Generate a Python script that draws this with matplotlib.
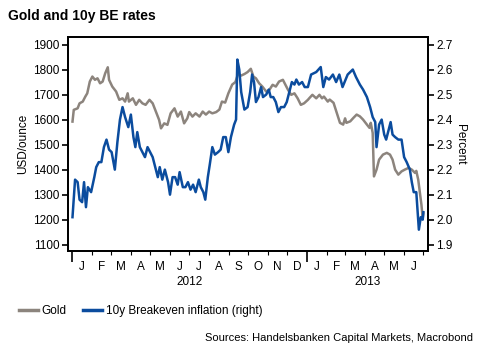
import matplotlib
matplotlib.use("Agg")
import matplotlib.pyplot as plt
import matplotlib.dates as mdates
from matplotlib.ticker import FuncFormatter
import pandas as pd

plt.rcParams["font.family"] = ["Liberation Sans", "DejaVu Sans"]

# data; x = days since 2012-01-01
gold_days = [0, 2, 8, 11, 16, 20, 23, 27, 31, 35, 39, 43, 47, 51, 55, 57, 62,
             68, 73, 78, 82, 86, 88, 94, 99, 104, 109, 114, 120, 125, 130, 135,
             138, 143, 148, 153, 159, 164, 169, 174, 179, 182, 187, 192, 198,
             203, 208, 213, 218, 224, 229, 233, 238, 243, 249, 254, 258, 263,
             268, 273, 278, 282, 286, 291, 296, 302, 307, 312, 317, 322, 328,
             332, 336, 341, 346, 351, 356, 361, 367, 369, 374, 380, 385, 389,
             392, 398, 401, 407, 412, 417, 422, 425, 427, 433, 438, 443, 448,
             453, 459, 463, 465, 468, 470, 474, 478, 484, 490, 495, 499, 503,
             508, 513, 518, 524, 529, 534, 536, 539, 542, 544, 546, 547]
gold_usd = [1592, 1639, 1645, 1665, 1672, 1692, 1705, 1752, 1772, 1759, 1765,
            1745, 1752, 1785, 1809, 1759, 1732, 1712, 1679, 1685, 1672, 1705,
            1672, 1685, 1659, 1679, 1665, 1659, 1679, 1665, 1632, 1599, 1565,
            1585, 1579, 1625, 1645, 1612, 1632, 1585, 1605, 1630, 1612, 1625,
            1612, 1632, 1620, 1632, 1625, 1630, 1640, 1672, 1668, 1705, 1740,
            1750, 1782, 1776, 1782, 1790, 1803, 1772, 1765, 1745, 1732, 1712,
            1719, 1739, 1732, 1752, 1759, 1739, 1719, 1699, 1705, 1685, 1659,
            1665, 1679, 1685, 1699, 1685, 1699, 1685, 1692, 1672, 1680, 1667,
            1627, 1587, 1580, 1605, 1587, 1593, 1607, 1620, 1613, 1600, 1580,
            1567, 1587, 1547, 1373, 1400, 1440, 1460, 1467, 1460, 1440, 1400,
            1380, 1393, 1400, 1407, 1400, 1387, 1395, 1360, 1300, 1260, 1205,
            1225]

be_days = [0, 4, 8, 11, 15, 18, 21, 24, 29, 34, 37, 41, 45, 49, 53, 57, 61, 66,
           70, 74, 78, 82, 87, 91, 95, 98, 101, 105, 109, 113, 117, 121, 125,
           129, 133, 136, 140, 144, 149, 152, 156, 160, 164, 167, 172, 176, 180,
           184, 188, 192, 197, 200, 204, 207, 211, 214, 218, 222, 227, 231, 235,
           239, 243, 247, 252, 255, 257, 260, 263, 268, 273, 277, 280, 283, 286,
           290, 294, 297, 302, 306, 309, 313, 317, 321, 325, 330, 334, 338, 342,
           346, 349, 353, 358, 362, 367, 372, 380, 387, 391, 395, 400, 406, 411,
           416, 421, 429, 437, 442, 448, 453, 459, 464, 468, 472, 474, 478, 482,
           486, 489, 492, 496, 499, 503, 508, 513, 517, 521, 526, 529, 532, 536,
           540, 543, 546, 547]
be_pct = [2.01, 2.16, 2.15, 2.08, 2.07, 2.15, 2.05, 2.13, 2.11, 2.17, 2.21,
          2.23, 2.23, 2.29, 2.32, 2.28, 2.27, 2.20, 2.31, 2.40, 2.45, 2.41,
          2.37, 2.42, 2.33, 2.29, 2.35, 2.29, 2.27, 2.25, 2.29, 2.27, 2.25,
          2.21, 2.17, 2.21, 2.16, 2.20, 2.15, 2.10, 2.17, 2.17, 2.14, 2.19,
          2.13, 2.13, 2.15, 2.12, 2.14, 2.11, 2.16, 2.13, 2.11, 2.08, 2.17,
          2.22, 2.29, 2.26, 2.27, 2.28, 2.33, 2.33, 2.27, 2.33, 2.38, 2.40,
          2.64, 2.60, 2.51, 2.44, 2.45, 2.51, 2.58, 2.55, 2.47, 2.49, 2.53,
          2.49, 2.50, 2.52, 2.49, 2.49, 2.47, 2.43, 2.45, 2.45, 2.47, 2.51,
          2.55, 2.54, 2.56, 2.54, 2.55, 2.53, 2.53, 2.58, 2.59, 2.61, 2.53,
          2.57, 2.56, 2.58, 2.55, 2.58, 2.53, 2.58, 2.60, 2.57, 2.54, 2.52,
          2.49, 2.45, 2.41, 2.39, 2.29, 2.38, 2.40, 2.34, 2.32, 2.35, 2.39,
          2.34, 2.33, 2.32, 2.32, 2.25, 2.23, 2.20, 2.15, 2.11, 2.11, 1.96,
          2.01, 2.00, 2.03]

left_ticks = [1100, 1200, 1300, 1400, 1500, 1600, 1700, 1800, 1900]
right_ticks = [1.9, 2.0, 2.1, 2.2, 2.3, 2.4, 2.5, 2.6, 2.7]
year_labels = ["2012", "2013"]

GOLD = "#8c847d"
BLUE = "#0b4c9e"

base = pd.Timestamp("2012-01-01")
gold_dates = base + pd.to_timedelta(gold_days, unit="D")
be_dates = base + pd.to_timedelta(be_days, unit="D")

fig = plt.figure(figsize=(4.83, 3.58), dpi=100)
ax = fig.add_axes([0.1408, 0.299, 0.745, 0.5976])
ax2 = ax.twinx()

ax.plot(gold_dates, gold_usd, color=GOLD, lw=1.8, solid_joinstyle="round")
ax2.plot(be_dates, be_pct, color=BLUE, lw=1.8, solid_joinstyle="round")

ax.set_ylim(1075, 1930)
ax2.set_ylim(1.875, 2.730)
ax.set_yticks(left_ticks)
ax2.set_yticks(right_ticks)
ax2.yaxis.set_major_formatter(FuncFormatter(lambda v, p: f"{v:.1f}"))

x0, x1 = pd.Timestamp("2011-12-25"), pd.Timestamp("2013-07-08")
ax.set_xlim(x0, x1)

# month boundaries (short) and year boundaries (long)
ax.xaxis.set_major_locator(mdates.YearLocator())
ax.xaxis.set_minor_locator(mdates.MonthLocator())
ax.xaxis.set_major_formatter(FuncFormatter(lambda v, p: ""))
ax.tick_params(axis="x", which="major", length=8, width=1.2, color="black")
ax.tick_params(axis="x", which="minor", length=3, width=0.8, color="black")

# month letters centred in each month
sec = ax.secondary_xaxis("bottom")
sec.xaxis.set_major_locator(mdates.MonthLocator(bymonthday=16))
sec.xaxis.set_major_formatter(
    FuncFormatter(lambda v, p: mdates.num2date(v).strftime("%b")[0]))
sec.tick_params(length=0, pad=7, labelsize=8.5)
sec.spines["bottom"].set_visible(False)

# year labels centred on the visible part of each year
trans = ax.get_xaxis_transform()
for lab in year_labels:
    ys = max(pd.Timestamp(f"{lab}-01-01"), x0)
    ye = min(pd.Timestamp(f"{int(lab) + 1}-01-01"), x1)
    mid = ys + (ye - ys) / 2
    ax.text(mdates.date2num(mid), -0.115, lab, transform=trans,
            ha="center", va="top", fontsize=8.5)

for a in (ax, ax2):
    for s in a.spines.values():
        s.set_linewidth(1.3)
ax.tick_params(axis="y", length=4, width=1.2, labelsize=8.5, pad=2)
ax2.tick_params(axis="y", length=4, width=1.2, labelsize=8.5, pad=2)

ax.set_ylabel("USD/ounce", fontsize=8.5, labelpad=3)
ax2.set_ylabel("Percent", fontsize=8.5, rotation=270, labelpad=10)

fig.text(0.017, 0.955, "Gold and 10y BE rates", fontsize=10,
         fontweight="bold", ha="left", va="center")

h1 = plt.Line2D([], [], color=GOLD, lw=2.5)
h2 = plt.Line2D([], [], color=BLUE, lw=2.5)
fig.legend([h1, h2], ["Gold", "10y Breakeven inflation (right)"],
           loc="center left", bbox_to_anchor=(0.03, 0.132), ncol=2,
           frameon=False, fontsize=8.5, handlelength=1.6, handletextpad=0.3,
           columnspacing=1.4, borderaxespad=0)

fig.text(0.98, 0.055, "Sources: Handelsbanken Capital Markets, Macrobond",
         fontsize=8, ha="right", va="center")

fig.savefig("out.png", dpi=100)
